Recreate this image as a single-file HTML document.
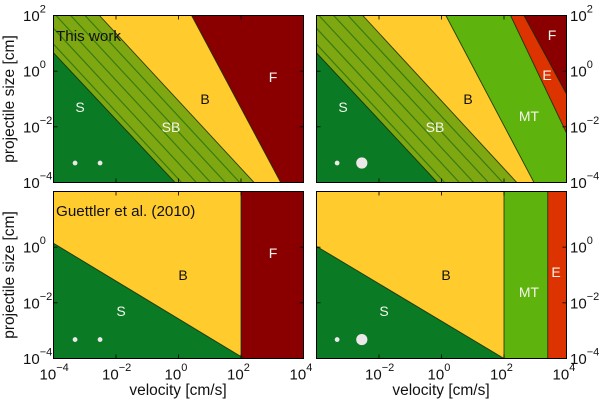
<!DOCTYPE html>
<html>
<head>
<meta charset="utf-8">
<style>
html,body{margin:0;padding:0;background:#fff;}
svg{display:block;}
text{font-family:"Liberation Sans",Arial,sans-serif;}
.lab{font-size:14px;text-anchor:middle;dominant-baseline:central;}
.w{fill:#f4f4ec;}
.k{fill:#111;}
.axt{font-size:15.5px;text-anchor:middle;fill:#111;}
.ann{font-size:15.2px;fill:#111;}
</style>
</head>
<body>
<svg id="chart" width="600" height="400" viewBox="0 0 600 400" xmlns="http://www.w3.org/2000/svg">
  <g id="marks"></g>

  <g>
    <text class="ann" x="56" y="41">This work</text>
    <text class="lab w" x="80" y="107">S</text>
    <text class="lab w" x="171" y="127">SB</text>
    <text class="lab k" x="205" y="99">B</text>
    <text class="lab w" x="273" y="77">F</text>
  </g>
  <g>
    <text class="lab w" x="343" y="107">S</text>
    <text class="lab w" x="435" y="127">SB</text>
    <text class="lab k" x="468" y="99">B</text>
    <text class="lab w" x="529" y="116">MT</text>
    <text class="lab w" x="552" y="35">F</text>
    <text class="lab w" x="547" y="75">E</text>
  </g>
  <g>
    <text class="ann" x="56" y="216">Guettler et al. (2010)</text>
    <text class="lab k" x="183" y="275">B</text>
    <text class="lab w" x="121" y="311">S</text>
    <text class="lab w" x="273" y="253">F</text>
  </g>
  <g>
    <text class="lab k" x="446" y="275">B</text>
    <text class="lab w" x="384" y="311">S</text>
    <text class="lab w" x="529" y="292">MT</text>
    <text class="lab w" x="556" y="272">E</text>
  </g>

  <text class="axt" x="178" y="395">velocity [cm/s]</text>
  <text class="axt" x="441" y="395">velocity [cm/s]</text>
  <text class="axt" transform="translate(14,99) rotate(-90)">projectile size [cm]</text>
  <text class="axt" transform="translate(14,275) rotate(-90)">projectile size [cm]</text>
</svg>

<script>
// Axis ranges (log10 units)
const xDomain = [-4, 4];
const yDomain = [-4, 2];

// Tick values and printed exponents
const xTicks = [-4, -2, 0, 2, 4];
const xTickLabels = ['\u22124', '\u22122', '0', '2', '4'];
const yTicks = [2, 0, -2, -4];
const yTickLabels = ['2', '0', '\u22122', '\u22124'];

// Regime colours
const colS = '#0a7a24';
const colSB = '#7fa712';
const colB = '#ffcb2d';
const colMT = '#5eb30c';
const colE = '#dc3300';
const colF = '#8a0000';

// Regime boundaries: [log velocity, log size] end points
const tlBoundS = [[-4, 0.66], [-0.11, -4]];
const tlBoundSB = [[-2.53, 2], [2.42, -4]];
const tlBoundB = [[0.42, 2], [3.27, -4]];
const trBoundS = [[-4, 0.66], [-0.13, -4]];
const trBoundSB = [[-2.52, 2], [2.41, -4]];
const trBoundB = [[0.14, 2], [2.96, -4]];
const trBoundMT = [[2.21, 2], [4, -2.22]];
const trBoundE = [[2.64, 2], [4, -0.82]];
const blBoundS = [[-4, 0.14], [2.1, -4]];
const blBoundB = [[2, 2], [2, -4]];
const brBoundS = [[-4, 0.03], [2, -4]];
const brBoundB = [[2, 2], [2, -4]];
const brBoundMT = [[3.4, 2], [3.4, -4]];

// Parallel sweep-up lines in the SB region: velocity at top and bottom edges
const sbLineTop = [-2.99, -3.45, -3.92, -4.38, -4.85];
const sbLineBottom = [1.96, 1.5, 1.03, 0.57, 0.1];

// Particle marker positions (log velocity, log size) and radii in points
const tlDotV = [-3.31, -2.51];
const tlDotS = [-3.3, -3.3];
const tlDotR = [2.4, 2.4];
const trDotV = [-3.34, -2.55];
const trDotS = [-3.3, -3.3];
const trDotR = [2.4, 5.6];
const blDotV = [-3.31, -2.51];
const blDotS = [-3.32, -3.32];
const blDotR = [2.4, 2.4];
const brDotV = [-3.34, -2.55];
const brDotS = [-3.32, -3.32];
const brDotR = [2.4, 5.6];

const NS = 'http://www.w3.org/2000/svg';
const root = document.getElementById('marks');

function make(tag, attrs, parent) {
  const el = document.createElementNS(NS, tag);
  for (const k in attrs) el.setAttribute(k, attrs[k]);
  parent.appendChild(el);
  return el;
}

function scales(box) {
  return {
    x: v => box.x0 + (v - xDomain[0]) / (xDomain[1] - xDomain[0]) * (box.x1 - box.x0),
    y: s => box.y1 - (s - yDomain[0]) / (yDomain[1] - yDomain[0]) * (box.y1 - box.y0)
  };
}

function regionPoints(b) {
  const pts = [b[0], b[1]];
  if (b[1][0] >= xDomain[1] && b[1][1] > yDomain[0]) pts.push([xDomain[1], yDomain[0]]);
  pts.push([xDomain[0], yDomain[0]]);
  if (b[0][1] >= yDomain[1]) pts.push([xDomain[0], yDomain[1]]);
  return pts;
}

function drawPanel(id, box, background, bands, dotV, dotS, dotR, showX, showY, ySide, labelFirstX) {
  const sc = scales(box);
  const g = make('g', {}, root);
  
  

  const clipId = id + '-clip';
  const cp = make('clipPath', { id: clipId }, g);
  make('rect', { x: box.x0, y: box.y0, width: box.x1 - box.x0, height: box.y1 - box.y0 }, cp);
  const inner = make('g', { 'clip-path': 'url(#' + clipId + ')' }, g);

  const bg = make('rect', { x: box.x0, y: box.y0, width: box.x1 - box.x0, height: box.y1 - box.y0, fill: background }, inner);
  
  

  bands.forEach(function (band) {
    const poly = make('polygon', {
      points: regionPoints(band.bound).map(p => sc.x(p[0]) + ',' + sc.y(p[1])).join(' '),
      fill: band.color
    }, inner);
    
    
    const edge = make('line', {
      x1: sc.x(band.bound[0][0]), y1: sc.y(band.bound[0][1]),
      x2: sc.x(band.bound[1][0]), y2: sc.y(band.bound[1][1]),
      stroke: '#0c2a08', 'stroke-width': 0.9, 'stroke-opacity': 0.85
    }, inner);
    
    
    if (band.sweep) {
      sbLineTop.forEach(function (t, i) {
        const sl = make('line', {
          x1: sc.x(t), y1: sc.y(yDomain[1]),
          x2: sc.x(sbLineBottom[i]), y2: sc.y(yDomain[0]),
          stroke: '#357c10', 'stroke-width': 1.2
        }, inner);
        
        
      });
      const s = band.sweep;
      const cover = make('polygon', {
        points: regionPoints(s.bound).map(p => sc.x(p[0]) + ',' + sc.y(p[1])).join(' '),
        fill: s.color
      }, inner);
      
      
      const e2 = make('line', {
        x1: sc.x(s.bound[0][0]), y1: sc.y(s.bound[0][1]),
        x2: sc.x(s.bound[1][0]), y2: sc.y(s.bound[1][1]),
        stroke: '#0c2a08', 'stroke-width': 0.9, 'stroke-opacity': 0.85
      }, inner);
      
      
    }
  });

  dotV.forEach(function (v, i) {
    const c = make('circle', { cx: sc.x(v), cy: sc.y(dotS[i]), r: dotR[i], fill: '#ece8ea' }, inner);
    
    
  });

  const frame = make('rect', {
    x: box.x0, y: box.y0, width: box.x1 - box.x0, height: box.y1 - box.y0,
    fill: 'none', stroke: '#000', 'stroke-width': 1
  }, g);
  
  

  xTicks.forEach(function (t, i) {
    const px = sc.x(t);
    [[box.y0, box.y0 + 4], [box.y1, box.y1 - 4]].forEach(function (e) {
      const tick = make('line', { x1: px, y1: e[0], x2: px, y2: e[1], stroke: '#000', 'stroke-width': 0.8 }, g);
      
      
    });
    if (showX && (i > 0 || labelFirstX)) {
      const label = tickLabel(g, px - 14, box.y1 + 21, xTickLabels[i]);
      
      
    }
  });

  yTicks.forEach(function (t, i) {
    const py = sc.y(t);
    [[box.x0, box.x0 + 4], [box.x1, box.x1 - 4]].forEach(function (e) {
      const tick = make('line', { x1: e[0], y1: py, x2: e[1], y2: py, stroke: '#000', 'stroke-width': 0.8 }, g);
      
      
    });
    if (showY(t)) {
      const lx = ySide === 'left' ? box.x0 - 30.5 : box.x1 + 3.5;
      const label = tickLabel(g, lx, py + 5.5, yTickLabels[i]);
      
      
    }
  });
}

function tickLabel(parent, x, y, exp) {
  const t = make('text', { x: x, y: y, 'font-size': 15, fill: '#111' }, parent);
  const base = make('tspan', {}, t);
  base.textContent = '10';
  const sup = make('tspan', { dy: -8.5, dx: 0, 'font-size': 11, 'letter-spacing': '0' }, t);
  sup.textContent = exp;
  return t;
}

const boxTL = { x0: 53.5, x1: 303.5, y0: 15.5, y1: 182.5 };
const boxTR = { x0: 316.5, x1: 566.5, y0: 15.5, y1: 182.5 };
const boxBL = { x0: 53.5, x1: 303.5, y0: 191.5, y1: 358.5 };
const boxBR = { x0: 316.5, x1: 566.5, y0: 191.5, y1: 358.5 };

const allY = () => true;
const lowerY = t => t < 2;

drawPanel('panel-top-left', boxTL, colF, [
  { bound: tlBoundB, color: colB },
  { bound: tlBoundSB, color: colSB, sweep: { bound: tlBoundS, color: colS } }
], tlDotV, tlDotS, tlDotR, false, allY, 'left', true);

drawPanel('panel-top-right', boxTR, colF, [
  { bound: trBoundE, color: colE },
  { bound: trBoundMT, color: colMT },
  { bound: trBoundB, color: colB },
  { bound: trBoundSB, color: colSB, sweep: { bound: trBoundS, color: colS } }
], trDotV, trDotS, trDotR, false, allY, 'right', false);

drawPanel('panel-bottom-left', boxBL, colF, [
  { bound: blBoundB, color: colB },
  { bound: blBoundS, color: colS }
], blDotV, blDotS, blDotR, true, lowerY, 'left', true);

drawPanel('panel-bottom-right', boxBR, colE, [
  { bound: brBoundMT, color: colMT },
  { bound: brBoundB, color: colB },
  { bound: brBoundS, color: colS }
], brDotV, brDotS, brDotR, true, lowerY, 'right', false);
</script>
</body>
</html>
